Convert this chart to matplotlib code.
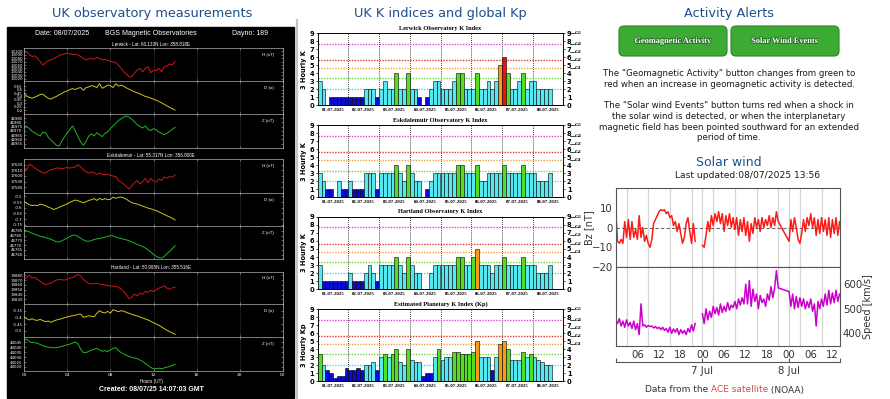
import numpy as np
import matplotlib.pyplot as plt
import matplotlib.patheffects as pe
from matplotlib.patches import Rectangle, FancyBboxPatch
from matplotlib.ticker import FormatStrFormatter

nan = float('nan')

# ---- left column: BGS magnetometer traces, 0.25 h steps from 00 UT 08/07/2025 ----
lerwick_h = [13095, 13100, 13090, 13085, 13087, 13080, 13070, 13060, 13067, 13073,
             13075, 13079, 13083, 13087, 13091, 13093, 13095, 13093, 13090, 13092,
             13089, 13085, 13080, 13075, 13078, 13080, 13077, 13083, 13079, 13075,
             13077, 13073, 13071, 13069, 13067, 13060, 13050, 13040, 13033, 13025,
             13027, 13037, 13045, 13050, 13040, 13050, 13055, 13037, 13045, 13043,
             13050, 13040, 13055, 13057, 13063, 13060, 13070]
lerwick_d = [0.443, 0.409, 0.385, 0.375, 0.390, 0.409, 0.429, 0.434, 0.400, 0.375,
             0.361, 0.385, 0.400, 0.424, 0.443, 0.468, 0.482, 0.502, 0.516, 0.502,
             0.521, 0.531, 0.492, 0.531, 0.541, 0.560, 0.550, 0.531, 0.589, 0.521,
             0.541, 0.570, 0.560, 0.531, 0.589, 0.555, 0.565, 0.550, 0.526, 0.507,
             0.487, 0.468, 0.453, 0.439, 0.419, 0.400, 0.390, 0.375, 0.361, 0.346,
             0.327, 0.307, 0.283, 0.264, 0.239, 0.220, 0.200]
lerwick_z = [46975.9, 46975.5, 46972.8, 46969.6, 46968.0, 46965.7, 46964.1, 46968.8, 46968.0, 46962.6,
             46959.4, 46956.3, 46953.2, 46952.4, 46957.9, 46963.3, 46968.0, 46972.0, 46975.9, 46970.4,
             46963.3, 46957.1, 46953.2, 46957.9, 46964.1, 46966.5, 46964.1, 46968.0, 46965.7, 46963.3,
             46967.3, 46968.8, 46972.8, 46975.9, 46979.0, 46982.2, 46984.5, 46986.5, 46987.6, 46986.1,
             46983.7, 46980.6, 46977.5, 46975.1, 46973.5, 46975.9, 46972.0, 46970.4, 46972.8, 46971.2,
             46968.8, 46967.3, 46965.7, 46967.3, 46969.6, 46972.0, 46974.3]
esk_h = [17614, 17611, 17621, 17618, 17614, 17611, 17608, 17606, 17605, 17609,
         17611, 17612, 17614, 17614, 17613, 17614, 17615, 17614, 17615, 17616,
         17620, 17616, 17611, 17608, 17605, 17607, 17606, 17603, 17605, 17603,
         17602, 17603, 17601, 17600, 17599, 17592, 17589, 17585, 17581, 17577,
         17583, 17588, 17592, 17586, 17590, 17596, 17588, 17596, 17591, 17589,
         17595, 17592, 17598, 17596, 17599, 17598, 17602]
esk_d = [-0.544, -0.559, -0.574, -0.580, -0.577, -0.582, -0.568, -0.574, -0.582, -0.594,
         -0.603, -0.615, -0.606, -0.597, -0.585, -0.577, -0.565, -0.553, -0.541, -0.532,
         -0.538, -0.547, -0.556, -0.547, -0.535, -0.529, -0.520, -0.535, -0.517, -0.529,
         -0.520, -0.529, -0.526, -0.506, -0.517, -0.508, -0.506, -0.514, -0.526, -0.541,
         -0.556, -0.562, -0.568, -0.577, -0.585, -0.594, -0.603, -0.609, -0.618, -0.624,
         -0.636, -0.648, -0.659, -0.671, -0.680, -0.692, -0.707]
esk_z = [46786.0, 46785.0, 46784.0, 46782.6, 46781.5, 46780.5, 46779.4, 46778.7, 46778.1, 46777.0,
         46776.3, 46774.9, 46773.5, 46773.5, 46774.6, 46776.0, 46777.4, 46779.1, 46780.5, 46780.5,
         46779.1, 46777.4, 46775.6, 46774.2, 46774.2, 46774.9, 46776.0, 46776.7, 46777.0, 46777.7,
         46778.4, 46779.4, 46780.1, 46779.8, 46778.7, 46777.7, 46777.0, 46776.3, 46775.6, 46774.6,
         46773.2, 46772.2, 46770.8, 46769.7, 46768.7, 46767.0, 46765.2, 46762.8, 46760.4, 46758.3,
         46756.9, 46756.5, 46758.3, 46761.1, 46763.8, 46766.6, 46769.4]
hart_h = [19870.0, 19875.4, 19880.0, 19874.0, 19875.4, 19871.4, 19868.0, 19863.4, 19860.7, 19862.0,
          19864.0, 19867.4, 19870.0, 19871.4, 19870.7, 19870.0, 19872.0, 19874.0, 19875.4, 19878.0,
          19882.0, 19878.0, 19871.4, 19866.7, 19863.4, 19862.0, 19862.7, 19863.4, 19861.4, 19860.7,
          19860.0, 19858.7, 19858.0, 19857.4, 19856.7, 19855.4, 19851.3, 19846.0, 19839.3, 19831.3,
          19835.3, 19840.7, 19838.0, 19843.3, 19840.7, 19847.3, 19844.7, 19848.7, 19846.0, 19850.0,
          19853.3, 19855.4, 19858.0, 19853.3, 19851.3, 19854.0, 19855.4]
hart_d = [-0.395, -0.410, -0.420, -0.410, -0.420, -0.4225, -0.415, -0.425, -0.4325, -0.4275,
          -0.4375, -0.4275, -0.420, -0.415, -0.410, -0.4025, -0.3975, -0.3925, -0.3875, -0.385,
          -0.3775, -0.375, -0.400, -0.395, -0.3875, -0.3925, -0.395, -0.370, -0.350, -0.3625,
          -0.3675, -0.355, -0.370, -0.3425, -0.350, -0.3575, -0.350, -0.355, -0.3625, -0.370,
          -0.3775, -0.385, -0.390, -0.3975, -0.405, -0.4125, -0.420, -0.430, -0.440, -0.450,
          -0.460, -0.4725, -0.485, -0.4975, -0.5075, -0.5175, -0.5275]
hart_z = [44047.1, 44048.5, 44045.7, 44045.0, 44044.7, 44044.0, 44043.0, 44041.6, 44040.9, 44040.2,
          44039.8, 44039.5, 44039.8, 44040.2, 44040.9, 44041.9, 44042.6, 44043.3, 44044.4, 44045.4,
          44043.7, 44038.1, 44034.6, 44034.6, 44036.0, 44037.1, 44038.1, 44039.1, 44037.4, 44036.0,
          44036.7, 44035.7, 44037.4, 44038.8, 44039.8, 44036.7, 44034.6, 44033.2, 44031.9, 44030.5,
          44029.8, 44029.1, 44028.4, 44027.0, 44025.6, 44023.5, 44021.5, 44019.4, 44018.0, 44018.3,
          44018.7, 44018.0, 44019.0, 44019.7, 44020.4, 44021.5, 44022.8]

# ---- middle column: 3-hourly K indices 01-07-2025 .. 08-07-2025 ----
k_days = ['01-07-2025', '02-07-2025', '03-07-2025', '04-07-2025',
          '05-07-2025', '06-07-2025', '07-07-2025', '08-07-2025']
lerwick_k = [3, 2, 0, 1, 1, 1, 1, 1,  1, 1, 1, 1, 2, 2, 2, 1,
             2, 3, 2, 2, 4, 2, 2, 4,  2, 2, 1, 0, 1, 2, 3, 3,
             2, 2, 2, 3, 4, 4, 2, 2,  2, 4, 2, 2, 3, 2, 3, 5,
             6, 4, 2, 2, 3, 4, 2, 3,  3, 2, 2, 2, 2]
esk_k = [3, 2, 1, 1, 0, 2, 1, 1,  2, 1, 1, 1, 3, 3, 3, 1,
         3, 3, 3, 3, 4, 3, 2, 4,  3, 2, 2, 0, 1, 2, 3, 3,
         3, 3, 3, 3, 4, 4, 3, 3,  3, 4, 2, 2, 3, 3, 3, 3,
         4, 3, 3, 3, 3, 4, 3, 3,  3, 2, 2, 2, 3]
hartland_k = [3, 1, 1, 1, 1, 1, 1, 1,  2, 1, 1, 1, 2, 3, 2, 1,
              3, 3, 3, 3, 4, 3, 2, 4,  3, 2, 2, 0, 0, 2, 3, 3,
              3, 3, 3, 3, 4, 4, 3, 3,  4, 5, 3, 3, 3, 2, 3, 3,
              4, 3, 3, 3, 3, 4, 3, 3,  3, 2, 2, 2, 3]
kp = [3.33, 2, 1.33, 1, 0.33, 0.67, 0.67, 1.67,  1.33, 1.33, 1.67, 1.33, 2, 2, 2.33, 1.33,
      3, 3.33, 3, 3.33, 4, 2.33, 2, 4,  2.67, 2.33, 2.33, 0.67, 1, 1, 3, 4,
      2.67, 3, 3, 3.67, 3.67, 3.33, 3.33, 3.33,  3.67, 5, 3, 3, 3, 1.33, 3, 4.67,
      5, 4, 2.67, 2.67, 2.67, 3.67, 3, 3.33,  3, 2.67, 2.33, 2, 2]
storm_levels = [2, 3.33, 4.67, 5.67, 7.67]
storm_colours = ['#3fdde8', '#6ad83a', '#f2a33a', '#d83a3a', '#dd44dd']
g_levels = [4.67, 5.67, 6.67, 7.67, 9]
g_names = ['G1', 'G2', 'G3', 'G4', 'G5']

# ---- right column: ACE solar wind, 0.5 h steps from 6 Jul 00 UT (None = no sample) ----
bz = [9, -7, -8, -6, -8, 3, -5, 4, -6, 3,
      -5, -1, -6, 6, -5, 0, -7, -4, -8, -10,
      -6, 2, 4, 6, 8, 9, 8.5, 9, 7, 8,
      5, 6, 1, 3, -2, 2, -3, -8, -5, 2,
      5, -2, -8, 2, -7, nan, nan, nan, -9, -10,
      -4, 3, -2, 6, 1, 7, 3, 8, 2, 7,
      -2, 6, 1, 7, 0, 5, -1, 5, -4, 4,
      -2, 5, -4, 3, -7, 2, -3, 5, 0, 4,
      -2, 5, 0, 4, 1, 6, 0, 5, 1, 8,
      3, None, None, None, None, None, -7, 4, -2, 5,
      0, -6, -8, -3, 4, -2, 5, 1, 7, 0,
      5, -4, 4, -3, 5, -2, 4, -4, 5, -5,
      4, -3, 5, -4, 3]
speed = [455, 440, 460, 430, 450, 425, 455, 430, 445, 420,
         450, 415, 440, 395, 520, 430, 435, 425, 432, 428,
         430, 422, 428, 420, 425, 415, 425, 412, 420, 405,
         425, 400, 418, 405, 420, 395, 415, 400, 412, 395,
         420, 405, 435, 410, 440, nan, nan, nan, 480, 440,
         500, 455, 490, 465, 510, 480, 505, 475, 520, 485,
         510, 490, 525, 495, 515, 505, 530, 500, 540, 515,
         545, 520, 600, 520, 615, 510, 580, 530, 560, 500,
         555, 525, 540, 510, 560, 535, 590, 545, 585, 655,
         585, None, None, None, None, None, 570, 510, 560, 500,
         550, 505, 545, 510, 540, 500, 530, 505, 540, 490,
         520, 430, 530, 500, 540, 510, 560, 515, 575, 520,
         565, 525, 575, 530, 560]

W, H = 890, 399
TITLE_BLUE = '#1f4e8d'

fig = plt.figure(figsize=(W / 100, H / 100), dpi=100)
fig.patch.set_facecolor('white')

# full-figure pixel canvas for page text and boxes
bg = fig.add_axes([0, 0, 1, 1])
bg.set_xlim(0, W)
bg.set_ylim(H, 0)
bg.axis('off')
bg.set_zorder(-5)


def px_axes(x0, y0, x1, y1):
    return fig.add_axes([x0 / W, 1 - y1 / H, (x1 - x0) / W, (y1 - y0) / H])


def ptext(x, y, s, **kw):
    kw.setdefault('ha', 'center')
    kw.setdefault('va', 'center')
    return bg.text(x, y, s, **kw)


# ================= left: magnetometer plots =================
ptext(152, 13, 'UK observatory measurements', fontsize=9.3, color=TITLE_BLUE)
bg.add_patch(Rectangle((7, 27), 287, 371, color='black'))
lfont = dict(color='white', family='Liberation Sans')
ptext(62, 33.5, 'Date: 08/07/2025', fontsize=5, **lfont)
ptext(151, 33.5, 'BGS Magnetic Observatories', fontsize=5, **lfont)
ptext(250, 33.5, 'Dayno: 189', fontsize=5, **lfont)

mag_hours = np.arange(len(lerwick_h)) * 0.25

stations = [
    ('Lerwick - Lat: 60.133N Lon: 358.818E', 44, [48, 81, 114, 148],
     [(lerwick_h, (13013, 13110), np.arange(13020, 13101, 10)),
      (lerwick_d, (0.142, 0.628), [0.2, 0.25, 0.3, 0.35, 0.4, 0.45, 0.5, 0.55]),
      (lerwick_z, (46950, 46990), np.arange(46955, 46986, 5))]),
    ('Eskdalemuir - Lat: 55.317N Lon: 356.800E', 155.5, [159, 193, 226, 259],
     [(esk_h, (17570, 17630), np.arange(17580, 17621, 10)),
      (esk_d, (-0.76, -0.47), [-0.75, -0.7, -0.65, -0.6, -0.55, -0.5]),
      (esk_z, (46755.5, 46790.2), np.arange(46760, 46786, 5))]),
    ('Hartland - Lat: 50.995N Lon: 355.516E', 267.5, [272, 304, 337, 371],
     [(hart_h, (19820.7, 19886.7), np.arange(19830, 19881, 10)),
      (hart_d, (-0.5475, -0.30), [-0.5, -0.45, -0.4, -0.35]),
      (hart_z, (44015.8, 44050.6), np.arange(44020, 44046, 5))]),
]
components = [('H (nT)', '#cc1818'), ('D (o)', '#cfc41a'), ('Z (nT)', '#22b422')]

for s_idx, (label, label_y, edges, traces) in enumerate(stations):
    ptext(151, label_y, label, fontsize=3.3, **lfont)
    for c_idx, (values, ylim, ticks) in enumerate(traces):
        ax = px_axes(24, edges[c_idx], 283, edges[c_idx + 1])
        ax.set_facecolor('black')
        unit, colour = components[c_idx]
        ax.plot(mag_hours, values, color=colour, lw=0.7)
        ax.set_xlim(0, 24)
        ax.set_ylim(*ylim)
        ax.set_xticks(range(0, 25, 4))
        ax.set_yticks(ticks)
        ax.yaxis.set_major_formatter(FormatStrFormatter('%g'))
        ax.grid(axis='x', color='#8a8a8a', lw=0.4, ls=(0, (1, 2)))
        for sp in ax.spines.values():
            sp.set_color('#b0b0b0')
            sp.set_linewidth(0.5)
        ax.tick_params(colors='#b0b0b0', labelcolor='white', labelsize=2.8, length=1.2,
                       width=0.4, direction='in', right=True, top=True, pad=1)
        ax.text(0.965, 0.8, unit, transform=ax.transAxes, fontsize=3.2, ha='right',
                va='center', **lfont)
        last = (s_idx == len(stations) - 1 and c_idx == 2)
        if last:
            ax.set_xticklabels(['00', '04', '08', '12', '16', '20', '00'])
            ax.tick_params(axis='x', labelsize=3.2, pad=1.5)
        else:
            ax.tick_params(axis='x', labelbottom=False)

ptext(151, 381, 'Hours (UT)', fontsize=3.3, **lfont)
ptext(151, 389.5, 'Created: 08/07/25 14:07:03 GMT', fontsize=5, fontweight='bold', **lfont)

# ================= middle: K index bar charts =================
ptext(440, 13, 'UK K indices and global Kp', fontsize=9.3, color=TITLE_BLUE)
bg.plot([296.5, 296.5], [20, H], color='#c4c4c4', lw=1.6)


def k_colour(v):
    if v < 2:
        return '#0a0ad0'
    if v < 3.3:
        return '#55e8f0'
    if v < 4.6:
        return '#55dd22'
    if v < 5.6:
        return '#f59d1a'
    return '#ee1111'


k_panels = [
    (lerwick_k, 'Lerwick Observatory K Index', '3 Hourly K', 33.3, 105),
    (esk_k, 'Eskdalemuir Observatory K Index', '3 Hourly K', 125, 197.3),
    (hartland_k, 'Hartland Observatory K Index', '3 Hourly K', 216.7, 289.3),
    (kp, 'Estimated Planetary K Index (Kp)', '3 Hourly Kp', 309.3, 381),
]
serif = 'Liberation Serif'
for values, title, ylab, y0, y1 in k_panels:
    ax = px_axes(317.7, y0, 563.3, y1)
    vals = np.asarray(values, dtype=float)
    starts = np.arange(len(vals)) / 8
    ax.bar(starts, vals, width=1 / 8, align='edge', color=[k_colour(v) for v in vals],
           edgecolor='black', linewidth=0.4, zorder=3)
    for lev, col in zip(storm_levels, storm_colours):
        ax.axhline(lev, color=col, lw=1.0, ls=(0, (1, 1)), zorder=2)
    for d in range(1, 8):
        ax.axvline(d, color='black', lw=0.6, ls=(0, (1, 1.5)), zorder=1)
    ax.set_xlim(0, 8)
    ax.set_ylim(0, 9)
    ax.set_xticks(np.arange(8) + 0.5)
    ax.set_xticklabels(k_days, fontsize=3.5, fontweight='bold', family=serif)
    ax.tick_params(axis='x', length=0, pad=2)
    ax.set_yticks(range(10))
    ax.tick_params(axis='y', labelsize=4.8, length=1.5, width=0.5, pad=1,
                   right=True, labelright=True)
    for lbl in ax.get_yticklabels():
        lbl.set_fontweight('bold')
    for sp in ax.spines.values():
        sp.set_linewidth(0.7)
    ax.set_title(title, fontsize=4.6, fontweight='bold', family=serif, pad=2.5)
    ax.set_ylabel(ylab, fontsize=4.8, fontweight='bold', labelpad=2)
    trans = ax.get_yaxis_transform()
    for lev, g in zip(g_levels, g_names):
        ax.plot([1.026, 1.046], [lev, lev], transform=trans, color='black', lw=0.5,
                clip_on=False)
        ax.text(1.048, lev, g, transform=trans, fontsize=3.8, fontweight='bold',
                family=serif, ha='left', va='center')

# ================= right: alerts and solar wind =================
ptext(729, 13, 'Activity Alerts', fontsize=9.3, color=TITLE_BLUE)
for x0, text in [(619, 'Geomagnetic Activity'), (731, 'Solar Wind Events')]:
    bg.add_patch(FancyBboxPatch((x0, 26), 108, 30, boxstyle='round,pad=0,rounding_size=5',
                                facecolor='#3cab34', edgecolor='#2b8526', lw=0.8))
    ptext(x0 + 54, 41, text, fontsize=6, fontweight='bold', family=serif, color='white',
          path_effects=[pe.withStroke(linewidth=1.2, foreground='#2a6e24')])

para1 = ['The "Geomagnetic Activity" button changes from green to',
         'red when an increase in geomagnetic activity is detected.']
para2 = ['The "Solar wind Events" button turns red when a shock in',
         'the solar wind is detected, or when the interplanetary',
         'magnetic field has been pointed southward for an extended',
         'period of time.']
for i, line in enumerate(para1):
    ptext(729, 74 + 10.6 * i, line, fontsize=6.2, color='#1a1a1a')
for i, line in enumerate(para2):
    ptext(729, 106 + 10.6 * i, line, fontsize=6.2, color='#1a1a1a')
ptext(729, 162, 'Solar wind', fontsize=9, color=TITLE_BLUE)
ptext(748, 176, 'Last updated:08/07/2025 13:56', fontsize=6.6, color='#1a1a1a')

sw_hours = np.arange(len(bz)) * 0.5
grid_hours = [3, 9, 15, 21, 24, 27, 33, 39, 45, 48, 51, 57]
t_end = 62.1


def sw_series(vals):
    t = np.array([h for h, v in zip(sw_hours, vals) if v is not None])
    y = np.array([v for v in vals if v is not None], dtype=float)
    return t, y


ax_bz = px_axes(615.7, 188, 840, 267)
ax_v = px_axes(615.7, 267, 840, 345.7)
for ax in (ax_bz, ax_v):
    for g in grid_hours:
        ax.axvline(g, color='#d6d6d6', lw=0.9, zorder=0)
    ax.set_xlim(0, t_end)
    for sp in ax.spines.values():
        sp.set_color('#555555')
        sp.set_linewidth(0.8)

t, y = sw_series(bz)
ax_bz.plot(t, y, color='#ff1a1a', lw=1.1)
ax_bz.axhline(0, color='#666666', lw=0.8, ls=(0, (3, 2)), zorder=1)
ax_bz.set_ylim(-20, 20)
ax_bz.set_yticks([-20, -10, 0, 10])
ax_bz.tick_params(axis='y', labelsize=7.3, labelcolor='#333333', length=0, pad=2)
ax_bz.tick_params(axis='x', bottom=False, labelbottom=False)
ax_bz.set_ylabel('Bz [nT]', fontsize=7, color='#333333')
ax_bz.yaxis.set_label_coords(-0.095, 0.5)

t, y = sw_series(speed)
ax_v.plot(t, y, color='#cc00cc', lw=1.1)
ax_v.set_ylim(350, 670)
ax_v.yaxis.tick_right()
ax_v.set_yticks([400, 500, 600])
ax_v.tick_params(axis='y', labelsize=7.3, labelcolor='#333333', length=0, pad=2)
ax_v.set_ylabel('Speed [km/s]', fontsize=7, color='#333333', rotation=90)
ax_v.yaxis.set_label_position('right')
ax_v.yaxis.set_label_coords(1.103, 0.5)
ax_v.set_xticks(np.arange(6, 61, 6))
ax_v.set_xticklabels(['06', '12', '18', '00', '06', '12', '18', '00', '06', '12'])
ax_v.tick_params(axis='x', labelsize=7.3, labelcolor='#333333', length=0, pad=3)

ax_day = px_axes(615.7, 352, 840, 362)
ax_day.set_xlim(0, t_end)
ax_day.patch.set_visible(False)
for side in ('top', 'left', 'right'):
    ax_day.spines[side].set_visible(False)
ax_day.spines['bottom'].set_color('#555555')
ax_day.spines['bottom'].set_linewidth(0.8)
ax_day.set_yticks([])
ax_day.set_xticks([0, 24, 48, t_end])
ax_day.set_xticklabels(['', '7 Jul', '8 Jul', ''])
ax_day.tick_params(axis='x', direction='in', length=3, width=0.8, color='#555555',
                   labelsize=7.3, labelcolor='#333333', pad=3)

t1 = ptext(645, 390, 'Data from the ', fontsize=6.5, color='#333333', ha='left')
t2 = bg.annotate('ACE satellite', xy=(1, 0), xycoords=t1, va='bottom', ha='left',
                 fontsize=6.5, color='#c8504a')
bg.annotate(' (NOAA)', xy=(1, 0), xycoords=t2, va='bottom', ha='left',
            fontsize=6.5, color='#333333')

fig.savefig('out.png', dpi=100)
